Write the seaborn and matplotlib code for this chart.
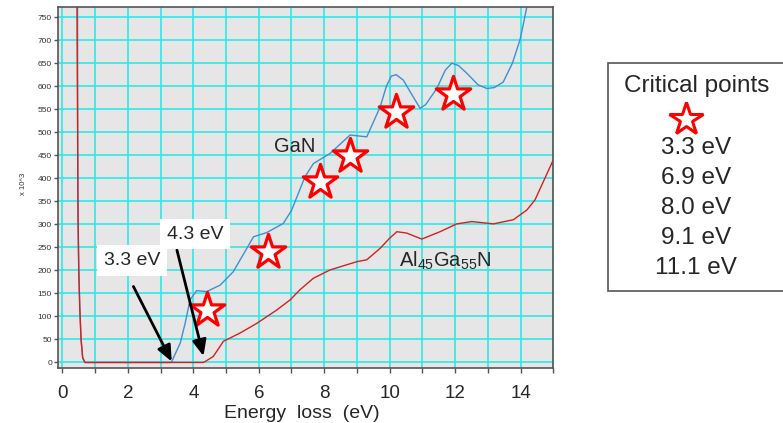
import matplotlib
matplotlib.use("Agg")
import matplotlib.pyplot as plt
import seaborn as sns
import numpy as np
from matplotlib.lines import Line2D
from matplotlib.patches import Rectangle

# ---- data ----
gan_x = [0.46, 0.47, 0.48, 0.50, 0.53, 0.57, 0.62, 0.69, 3.30, 3.34, 3.60, 3.75, 3.90,
         4.10, 4.41, 4.82, 5.22, 5.84, 6.24, 6.75, 7.00, 7.41, 7.67, 8.18, 8.79, 9.30,
         9.71, 9.90, 10.05, 10.20, 10.42, 10.65, 10.93, 11.10, 11.44, 11.70, 11.90,
         12.10, 12.36, 12.70, 12.97, 13.20, 13.47, 13.75, 13.98, 14.10, 14.19, 14.30]
gan_y = [900, 370, 300, 200, 120, 50, 10, 0, 0, 2, 42, 85, 136,
         156, 154, 168, 197, 273, 282, 302, 330, 403, 432, 454, 494, 490,
         555, 600, 622, 625, 613, 585, 552, 560, 595, 635, 650,
         645, 628, 603, 595, 597, 609, 650, 700, 740, 772, 850]

algan_x = [0.44, 0.45, 0.48, 0.50, 0.53, 0.57, 0.62, 0.69, 4.30, 4.36, 4.61, 4.92, 5.43,
           5.94, 6.55, 6.96, 7.26, 7.67, 8.18, 9.00, 9.30, 9.71, 10.00, 10.22, 10.52,
           10.98, 11.54, 12.05, 12.51, 13.17, 13.78, 14.19, 14.44, 15.00]
algan_y = [900, 700, 300, 200, 120, 50, 10, 0, 0, 2, 13, 46, 64,
           85, 114, 136, 158, 183, 201, 219, 223, 248, 270, 284, 281,
           268, 284, 301, 306, 301, 310, 331, 353, 440]

star_x = [4.41, 6.29, 7.87, 8.79, 10.19, 11.92]
star_y = [114, 239, 393, 448, 543, 582]

legend_title = "Critical points"
legend_items = ["3.3 eV", "6.9 eV", "8.0 eV", "9.1 eV", "11.1 eV"]
x_ticks = [0, 2, 4, 6, 8, 10, 12, 14]
y_ticks = list(range(0, 800, 50))

# ---- style ----
sns.set_style("white")
plt.rcParams['font.family'] = ['Liberation Sans', 'DejaVu Sans']
plt.rcParams['mathtext.fontset'] = 'custom'
plt.rcParams['mathtext.rm'] = 'Liberation Sans'

W, H = 783, 423
fig = plt.figure(figsize=(W / 100, H / 100), dpi=100)
ax = fig.add_axes([57.5 / W, 1 - 368 / H, (553.3 - 57.5) / W, (368 - 7) / H])
ax.set_facecolor('#e6e6e6')

sns.lineplot(x=gan_x, y=gan_y, sort=False, estimator=None, ax=ax,
             color='#3f8fd2', linewidth=1.0)
sns.lineplot(x=algan_x, y=algan_y, sort=False, estimator=None, ax=ax,
             color='#d42020', linewidth=1.0)
sns.scatterplot(x=star_x, y=star_y, marker='*', s=680, facecolor='white',
                edgecolor='#ff0000', linewidth=2.3, ax=ax, zorder=5)

ax.set_xlim(-0.15, 15)
ax.set_ylim(-12, 772)
ax.set_xticks(x_ticks)
ax.set_xticks(range(0, 16), minor=True)
ax.set_yticks(y_ticks)
ax.grid(True, which='both', color='#30e8e8', linewidth=1.2)
ax.set_axisbelow(True)
for s in ax.spines.values():
    s.set_color('#555555')
    s.set_linewidth(1.2)
ax.tick_params(axis='x', which='both', bottom=True, length=3.5, width=1,
               color='#555555', labelsize=13.5, pad=9)
ax.tick_params(axis='y', left=True, length=3, width=1, color='#555555',
               labelsize=6, pad=1, labelcolor='#333333')

ax.set_xlabel('Energy  loss  (eV)', fontsize=14)
ax.xaxis.set_label_coords(0.492, -0.102)
ax.set_ylabel('x 10^3', fontsize=5.5, color='#333333')
ax.yaxis.set_label_coords(-0.062, 0.51)

ax.text(7.11, 468, 'GaN', fontsize=14.5, ha='center', va='center')
ax.text(11.71, 208, r'$\mathregular{Al_{45}Ga_{55}N}$', fontsize=14.5,
        ha='center', va='baseline')

# annotations
arrow_style = dict(arrowstyle='-|>,head_length=0.8,head_width=0.35',
                   color='black', lw=2, mutation_scale=12, shrinkA=0, shrinkB=0)
ax.annotate('', xy=(3.34, 2), xytext=(2.17, 165), arrowprops=arrow_style, zorder=6)
ax.annotate('', xy=(4.31, 14), xytext=(3.50, 244), arrowprops=arrow_style, zorder=6)
box = dict(boxstyle='square,pad=0.35', facecolor='white', edgecolor='none')
ax.text(2.12, 221, '3.3 eV', fontsize=14, ha='center', va='center', bbox=box, zorder=7)
ax.text(4.05, 279, '4.3 eV', fontsize=14, ha='center', va='center', bbox=box, zorder=7)

# legend box on the right
fig.add_artist(Rectangle((608 / W, 1 - 290.7 / H), (800 - 608) / W, (290.7 - 63.3) / H,
                         transform=fig.transFigure, facecolor='white',
                         edgecolor='#555555', linewidth=1.2))
fig.text(696.7 / W, 1 - 86 / H, legend_title, fontsize=17.5, ha='center', va='center')
fig.add_artist(Line2D([685.7 / W], [1 - 119 / H], marker='*', markersize=25,
                      markerfacecolor='white', markeredgecolor='#ff0000',
                      markeredgewidth=2.2, linestyle='none',
                      transform=fig.transFigure))
for i, t in enumerate(legend_items):
    fig.text(695.8 / W, 1 - (148 + 30 * i) / H, t, fontsize=17.5,
             ha='center', va='center')

fig.savefig('out.png', dpi=100)
